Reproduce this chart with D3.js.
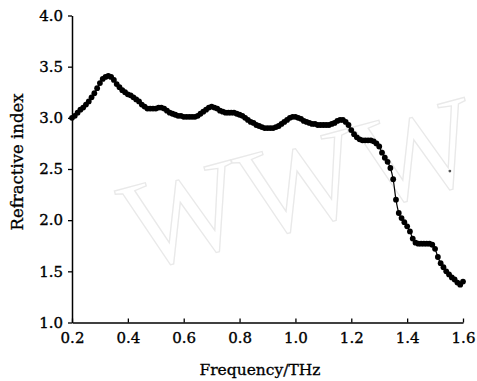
<!DOCTYPE html>
<html>
<head>
<meta charset="utf-8">
<script src="https://cdn.jsdelivr.net/npm/d3@7"></script>
<style>
  html, body { margin: 0; padding: 0; background: #fff; }
  svg { display: block; }
</style>
</head>
<body>
<svg id="chart" width="477" height="381"></svg>
<script>
// Frequency sweep (THz) and the extracted refractive index
const frequency = [
  0.20,0.21,0.22,0.23,0.24,0.25,0.26,0.27,0.28,0.29,
  0.30,0.31,0.32,0.33,0.34,0.35,0.36,0.37,0.38,0.39,
  0.40,0.41,0.42,0.43,0.44,0.45,0.46,0.47,0.48,0.49,
  0.50,0.51,0.52,0.53,0.54,0.55,0.56,0.57,0.58,0.59,
  0.60,0.61,0.62,0.63,0.64,0.65,0.66,0.67,0.68,0.69,
  0.70,0.71,0.72,0.73,0.74,0.75,0.76,0.77,0.78,0.79,
  0.80,0.81,0.82,0.83,0.84,0.85,0.86,0.87,0.88,0.89,
  0.90,0.91,0.92,0.93,0.94,0.95,0.96,0.97,0.98,0.99,
  1.00,1.01,1.02,1.03,1.04,1.05,1.06,1.07,1.08,1.09,
  1.10,1.11,1.12,1.13,1.14,1.15,1.16,1.17,1.18,1.19,
  1.20,1.21,1.22,1.23,1.24,1.25,1.26,1.27,1.28,1.29,
  1.30,1.31,1.32,1.33,1.34,1.35,1.36,1.37,1.38,1.39,
  1.40,1.41,1.42,1.43,1.44,1.45,1.46,1.47,1.48,1.49,
  1.50,1.51,1.52,1.53,1.54,1.55,1.56,1.57,1.58,1.59,
  1.60
];
const refractiveIndex = [
  3.00,3.02,3.05,3.08,3.10,3.13,3.16,3.20,3.24,3.29,
  3.34,3.38,3.40,3.41,3.40,3.37,3.33,3.30,3.27,3.25,
  3.23,3.22,3.20,3.18,3.16,3.13,3.11,3.09,3.09,3.09,
  3.09,3.10,3.10,3.09,3.07,3.05,3.04,3.03,3.02,3.02,
  3.01,3.01,3.01,3.01,3.01,3.02,3.04,3.06,3.08,3.10,
  3.11,3.10,3.09,3.07,3.06,3.05,3.05,3.05,3.05,3.04,
  3.03,3.02,3.00,2.98,2.96,2.95,2.93,2.92,2.91,2.90,
  2.90,2.90,2.90,2.91,2.92,2.94,2.96,2.98,3.00,3.01,
  3.01,3.00,2.99,2.97,2.96,2.95,2.94,2.94,2.93,2.93,
  2.93,2.93,2.93,2.94,2.95,2.97,2.98,2.98,2.96,2.93,
  2.88,2.84,2.81,2.79,2.78,2.78,2.78,2.78,2.77,2.75,
  2.72,2.66,2.61,2.57,2.51,2.40,2.20,2.07,2.02,1.98,
  1.94,1.89,1.82,1.78,1.77,1.77,1.77,1.77,1.77,1.76,
  1.72,1.64,1.58,1.54,1.50,1.47,1.44,1.42,1.39,1.37,
  1.40
];
// isolated sample off the main trace
const strayFrequency = [1.553];
const strayIndex = [2.48];

const xTicks = [0.2, 0.4, 0.6, 0.8, 1.0, 1.2, 1.4, 1.6];
const yTicks = [1.0, 1.5, 2.0, 2.5, 3.0, 3.5, 4.0];

const svg = d3.select("#chart");
const serif = "'DejaVu Serif', 'Liberation Serif', serif";

const x = d3.scaleLinear().domain([0.2, 1.6]).range([72, 463]);
const y = d3.scaleLinear().domain([1.0, 4.0]).range([322.5, 15.5]);

// faint outlined watermark lettering behind the data
svg.append("text")
  .attr("transform", "translate(136,272) rotate(-15)")
  .attr("font-family", "'Liberation Serif', 'DejaVu Serif', serif")
  .attr("font-size", 128)
  .attr("fill", "none")
  .attr("stroke", "#e9e9e9")
  .attr("stroke-width", 1.3)
  .text("WWW");

// left axis: short outward ticks
const yAxis = svg.append("g")
  .attr("transform", `translate(${x(0.2)},0)`)
  .call(d3.axisLeft(y).tickValues(yTicks).tickFormat(d3.format(".1f"))
    .tickSize(4).tickSizeOuter(0).tickPadding(5));

// bottom axis: ticks pointing inward
const xAxis = svg.append("g")
  .attr("transform", `translate(0,${y(1.0)})`)
  .call(d3.axisBottom(x).tickValues(xTicks).tickFormat(d3.format(".1f"))
    .tickSize(-4).tickSizeOuter(0).tickPadding(10));

[xAxis, yAxis].forEach(g => {
  g.select(".domain").attr("stroke", "#000").attr("stroke-width", 1.5);
  g.selectAll(".tick line").attr("stroke", "#000").attr("stroke-width", 1.3);
  g.selectAll(".tick text").attr("fill", "#000")
    .attr("stroke", "#000").attr("stroke-width", 0.35)
    .attr("font-size", 15).attr("font-family", serif);
});

// axis titles
svg.append("text")
  .attr("x", 260).attr("y", 375)
  .attr("text-anchor", "middle")
  .attr("font-family", serif).attr("font-size", 15.5)
  .attr("fill", "#000").attr("stroke", "#000").attr("stroke-width", 0.3)
  .text("Frequency/THz");

svg.append("text")
  .attr("transform", "translate(23,162) rotate(-90)")
  .attr("text-anchor", "middle")
  .attr("font-family", serif).attr("font-size", 16.5)
  .attr("fill", "#000").attr("stroke", "#000").attr("stroke-width", 0.3)
  .text("Refractive index");

// data trace: thin connecting line plus dense filled markers
const pts = frequency.map((f, i) => [f, refractiveIndex[i]]);
svg.append("path")
  .datum(pts)
  .attr("fill", "none")
  .attr("stroke", "#000")
  .attr("stroke-width", 1.2)
  .attr("d", d3.line().x(d => x(d[0])).y(d => y(d[1])).curve(d3.curveMonotoneX));

svg.append("g").selectAll("circle")
  .data(pts)
  .join("circle")
  .attr("cx", d => x(d[0]))
  .attr("cy", d => y(d[1]))
  .attr("r", 2.9)
  .attr("fill", "#000");

svg.append("g").selectAll("circle")
  .data(strayFrequency.map((f, i) => [f, strayIndex[i]]))
  .join("circle")
  .attr("cx", d => x(d[0]))
  .attr("cy", d => y(d[1]))
  .attr("r", 1.4)
  .attr("fill", "#555");
</script>
</body>
</html>
